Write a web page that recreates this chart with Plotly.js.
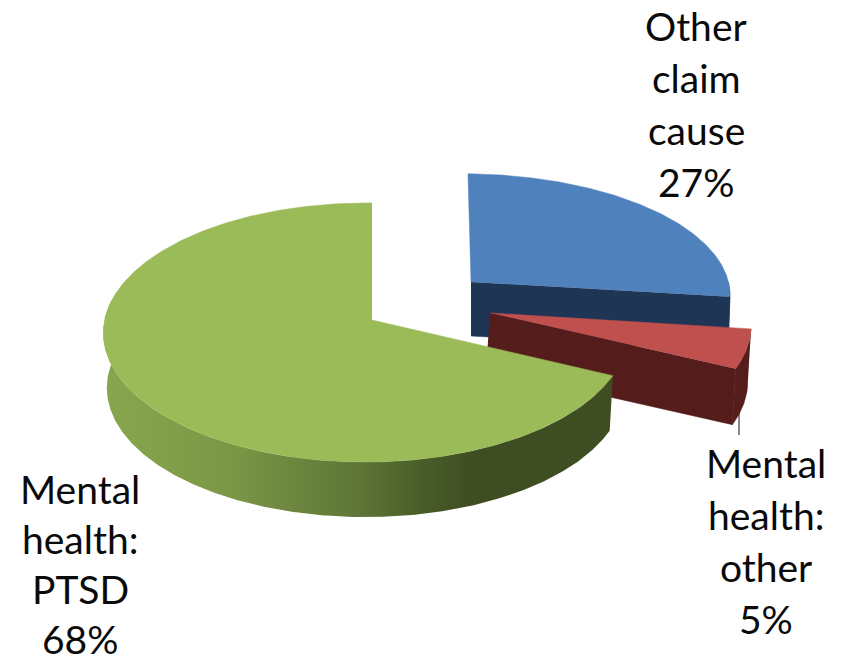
<!DOCTYPE html>
<html>
<head>
<meta charset="utf-8">
<script src="https://cdn.plot.ly/plotly-3.0.1.min.js"></script>
<style>
  html, body { margin: 0; padding: 0; background: #fff; }
  #chart { width: 843px; height: 663px; }
</style>
</head>
<body>
<div id="chart"></div>
<script>
// Share of claims by cause, drawn as an exploded 3D pie.
const categories = ['Other claim cause', 'Mental health: other', 'Mental health: PTSD'];
const shares = [27, 5, 68];
const topColors = ['#4f81bd', '#c0504d', '#9bbb59'];
const wallColors = ['#1e3556', '#541c1b', '#3f4e22'];
const labelLines = [['Other', 'claim', 'cause', '27%'], ['Mental', 'health:', 'other', '5%'], ['Mental', 'health:', 'PTSD', '68%']];
const labelCentres = [[696, 26], [766, 463], [80, 489]];
const labelSteps = [52, 52, 50];

// Each wedge has its own hub (the explosion) and small corrections to the shared projection.
const wedgeFrames = [
  { hub: [471, 282], sx: 1.01, sy: 0.925, lean: 0.028, depth: 54, hubBaseDx: 0 },
  { hub: [490, 313], sx: 1.02, sy: 1, lean: 0, depth: 56, hubBaseDx: -4 },
  { hub: [372, 320], sx: 1, sy: 1, lean: 0, depth: 55, hubBaseDx: 0 }
];

// Perspective projection of the pie's unit disc onto the page.
const RX = 261, RY = 128.3, TILT = 0.0965, SKEW = 0.024, BASE_SHRINK = 0.987;
function project(frame, angle, lower) {
  const X = Math.sin(angle), Y = Math.cos(angle);
  const w = 1 + TILT * Y + SKEW * X;
  let dx = RX * X / w * frame.sx;
  let dy = -RY * Y / w * frame.sy;
  if (lower) { dx *= BASE_SHRINK; dy += frame.depth; }
  return [frame.hub[0] + dx + frame.lean * dy, frame.hub[1] + dy];
}
function hubPoint(frame, lower) {
  return lower ? [frame.hub[0] + frame.hubBaseDx, frame.hub[1] + frame.depth] : frame.hub.slice();
}
function arc(frame, from, to, lower) {
  const n = Math.max(2, Math.ceil(Math.abs(to - from) / 0.01));
  const pts = [];
  for (let i = 0; i <= n; i++) pts.push(project(frame, from + (to - from) * i / n, lower));
  return pts;
}
function polygon(pts, color, name, extra) {
  return Object.assign({
    type: 'scatter', mode: 'lines', name: name, hoverinfo: 'name',
    x: pts.map(p => p[0]), y: pts.map(p => p[1]),
    fill: 'toself', fillcolor: color, line: { width: 0.5, color: color }
  }, extra || {});
}

const total = shares.reduce((a, b) => a + b, 0);
const traces = [];
let start = 0;
shares.forEach((share, i) => {
  const end = start + share / total * 2 * Math.PI;
  const f = wedgeFrames[i], name = categories[i];
  const rimFrom = Math.max(start, Math.PI / 2);
  const rimTo = Math.min(end, 1.55 * Math.PI);
  if (i === 2) {
    // Front wall of the large wedge shades from lit olive to deep shadow.
    const wall = arc(f, rimFrom, rimTo, false).concat(arc(f, rimTo, rimFrom, true));
    traces.push(polygon(wall, wallColors[i], name, {
      fillgradient: {
        type: 'horizontal',
        colorscale: [[0, '#88a64e'], [0.25, '#7b9746'], [0.5, '#5e7637'], [0.62, '#4a5e29'], [0.72, '#3f4e22'], [1, '#3f4e22']]
      },
      line: { width: 0 }
    }));
  } else {
    // Cut face running from the hub to the end of the arc, then the rim wall.
    const faceEnd = project(f, end, false), faceEndLow = project(f, end, true);
    traces.push(polygon([hubPoint(f, false), faceEnd, faceEndLow, hubPoint(f, true)], wallColors[i], name));
    const wall = arc(f, rimFrom, end, false).concat(arc(f, end, rimFrom, true));
    traces.push(polygon(wall, wallColors[i], name));
  }
  traces.push(polygon([hubPoint(f, false)].concat(arc(f, start, end, false)), topColors[i], name));
  start = end;
});

// Each text line is placed on its own so the line spacing stays even.
const annotations = [];
labelLines.forEach((lines, i) => {
  lines.forEach((text, j) => {
    annotations.push({
      x: labelCentres[i][0], y: labelCentres[i][1] + j * labelSteps[i],
      xref: 'x', yref: 'y', text: text, showarrow: false,
      xanchor: 'center', yanchor: 'middle',
      font: { family: 'Lato, "Open Sans", sans-serif', size: 39, color: '#0a0a0a' }
    });
  });
});

const layout = {
  width: 843, height: 663,
  margin: { l: 0, r: 0, t: 0, b: 0 },
  paper_bgcolor: '#fff', plot_bgcolor: '#fff',
  showlegend: false,
  xaxis: { range: [0, 843], visible: false, fixedrange: true },
  yaxis: { range: [663, 0], visible: false, fixedrange: true },
  annotations: annotations,
  // Leader line from the small wedge to its label.
  shapes: [{ type: 'line', xref: 'x', yref: 'y', x0: 739, x1: 739, y0: 405, y1: 435, line: { color: '#111', width: 1 }, layer: 'below' }]
};

Plotly.newPlot('chart', traces, layout, { displayModeBar: false, staticPlot: true });
</script>
</body>
</html>
